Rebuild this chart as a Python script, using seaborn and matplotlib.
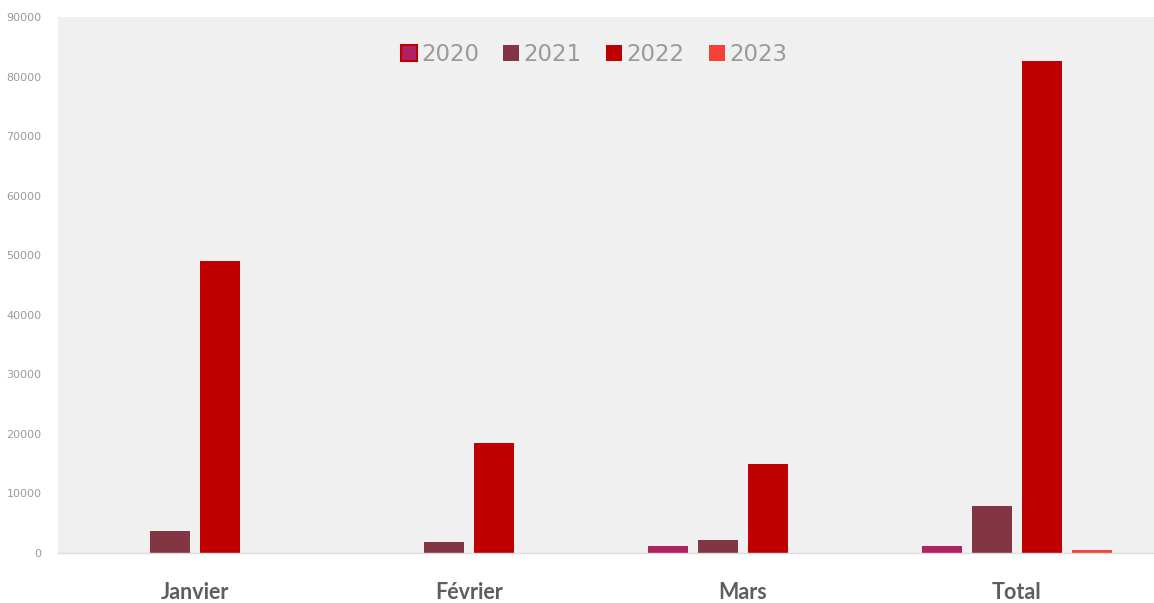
import matplotlib
matplotlib.use("Agg")
import matplotlib.pyplot as plt
import seaborn as sns
import pandas as pd

categories = ["Janvier", "Février", "Mars", "Total"]
years = ["2020", "2021", "2022", "2023"]
values_2020 = [0, 0, 1150, 1150]
values_2021 = [3700, 1850, 2200, 7900]
values_2022 = [49100, 18400, 14900, 82600]
values_2023 = [0, 0, 0, 500]
colors = ["#B0215F", "#843544", "#C00000", "#F44336"]
yticks = [0, 10000, 20000, 30000, 40000, 50000, 60000, 70000, 80000, 90000]

rows = []
for yr, vals in zip(years, [values_2020, values_2021, values_2022, values_2023]):
    for c, v in zip(categories, vals):
        rows.append({"Mois": c, "Année": yr, "Valeur": v})
df = pd.DataFrame(rows)

sns.set_style("white")
plt.rcParams["font.family"] = ["Lato", "DejaVu Sans"]

fig = plt.figure(figsize=(11.54, 6.03), dpi=100)
ax = fig.add_axes([58 / 1154, 1 - 553 / 603, 1 - 58 / 1154, (553 - 17) / 603])
ax.set_facecolor("#F0F0F0")

sns.barplot(data=df, x="Mois", y="Valeur", hue="Année", order=categories,
            hue_order=years, palette=colors, width=0.73, gap=0.2,
            saturation=1, linewidth=0, ax=ax, legend=True)

ax.set_ylim(0, 90000)
ax.set_xlim(-0.5, 3.5)
ax.set_yticks(yticks)
ax.set_yticklabels([str(t) for t in yticks], fontsize=8, color="#9A9A9A",
                   family="DejaVu Sans")
ax.set_xticks(range(len(categories)))
ax.set_xticklabels(categories, fontsize=15.5, fontweight="bold", color="#5E5E5E")
ax.tick_params(axis="x", length=0, pad=21)
ax.tick_params(axis="y", length=0, pad=12)
ax.set_xlabel("")
ax.set_ylabel("")
for s in ["top", "right", "left"]:
    ax.spines[s].set_visible(False)
ax.spines["bottom"].set_color("#DDDDDD")
ax.spines["bottom"].set_linewidth(1)
ax.grid(False)

handles, labels = ax.get_legend_handles_labels()
leg = ax.legend(handles, labels, loc="upper center", bbox_to_anchor=(0.489, 0.99),
                ncol=4, frameon=False, prop={"family": "DejaVu Sans", "size": 16.5},
                handlelength=0.7, handleheight=0.7, handletextpad=0.2,
                columnspacing=1.05)
for t in leg.get_texts():
    t.set_color("#9A9A9A")
leg.legend_handles[0].set_edgecolor("#C00000")
leg.legend_handles[0].set_linewidth(1.5)

fig.savefig("out.png", dpi=100)
